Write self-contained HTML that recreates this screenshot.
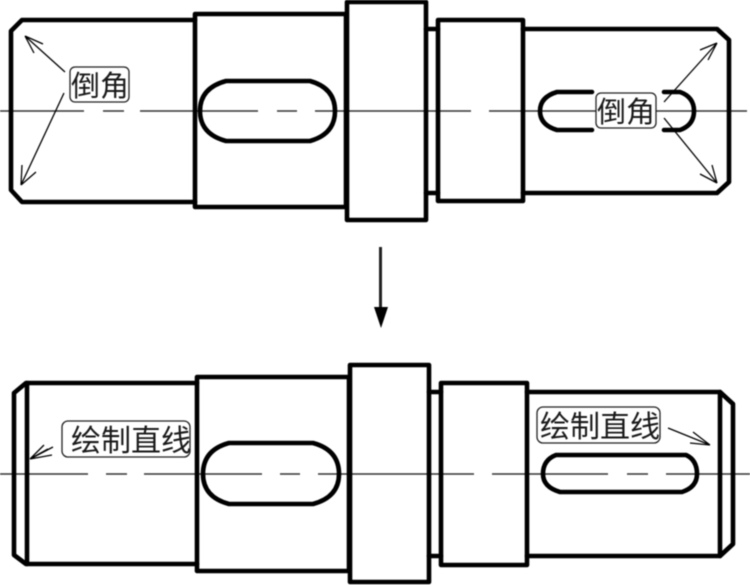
<!DOCTYPE html>
<html>
<head>
<meta charset="utf-8">
<style>
html,body{margin:0;padding:0;background:#fff;}
body{width:750px;height:585px;overflow:hidden;}
svg{display:block;filter:blur(0.4px);}
text{font-family:"Liberation Sans","Noto Sans CJK SC","WenQuanYi Zen Hei",sans-serif;fill:#1a1a1a;}
.l{font-size:29px;}
.m{font-size:30px;}
.o{fill:none;stroke:#000;stroke-width:4.6;stroke-linejoin:round;stroke-linecap:round;}
.c{fill:none;stroke:#333;stroke-width:1.5;}
.t{fill:none;stroke:#000;stroke-width:1.3;}
.b{fill:#fff;stroke:#222;stroke-width:1.3;}
</style>
</head>
<body>
<svg width="750" height="585" viewBox="0 0 750 585" xmlns="http://www.w3.org/2000/svg">
<rect width="750" height="585" fill="#fff"/>

<!-- TOP SHAFT -->
<path class="c" d="M0 111H84M103 111H124M140 111H258M277 111H297M315 111H471M489 111H610M627 111H747"/>
<path class="o" d="M195 20H22L11 31V190L22 202H195"/>
<rect class="o" x="195" y="14" width="151" height="193"/>
<rect class="o" x="347" y="2" width="79" height="218"/>
<path class="o" d="M426 29H438M426 193H438"/>
<rect class="o" x="438" y="20" width="85" height="181"/>
<path class="o" d="M523 29H717L729 40V182L717 193H523"/>
<path class="o" d="M226 81H310Q335 88 335 111Q335 134 310 141H226Q200 134 200 111Q200 88 226 81Z"/>
<path class="o" d="M592 92H557Q540 97 540 111Q540 125 557 130H592"/>
<path class="o" d="M664 92H680Q694 97 694 111Q694 125 680 130H664"/>

<!-- top arrows -->
<path class="t" d="M65 72L25 36M25 36L43 44M25 36L34 53"/>
<path class="t" d="M64 93L21 185M21 185L22 165M21 185L36 172"/>
<path class="t" d="M664 102L717 43M717 43L700 50M717 43L708 60"/>
<path class="t" d="M664 118L717 183M717 183L700 174M717 183L712 165"/>

<rect class="b" x="70" y="67" width="59" height="35" rx="5"/>
<text class="l" x="71" y="96">倒角</text>
<rect class="b" x="596" y="93" width="60" height="35" rx="5"/>
<text class="l" x="597" y="122">倒角</text>

<!-- MIDDLE ARROW -->
<path d="M380.5 247V310" stroke="#222" stroke-width="3" fill="none"/>
<path d="M374 307H388L381 328Z" fill="#000"/>

<!-- BOTTOM SHAFT -->
<path class="c" d="M0 474H88M106 474H127M144 474H262M280 474H300M318 474H474M492 474H608M627 474H648M666 474H750"/>
<path class="o" d="M197 383H26L14 393V555L26 564H197"/>
<path class="o" d="M27 383V564"/>
<rect class="o" x="197" y="377" width="152" height="194"/>
<rect class="o" x="350" y="365" width="79" height="217"/>
<path class="o" d="M429 392H441M429 556H441"/>
<rect class="o" x="441" y="383" width="86" height="182"/>
<path class="o" d="M527 392H720L733 404V544L720 556H527"/>
<path class="o" d="M720 392V556"/>
<path class="o" d="M229 443H313Q339 450 339 474Q339 497 313 504H229Q203 497 203 474Q203 450 229 443Z"/>
<path class="o" d="M556 455H686Q697 460 697 474Q697 487 682 492H560Q543 487 543 474Q543 460 556 455Z"/>

<!-- bottom arrows -->
<path class="t" d="M53 447L30 459M30 459L44 445M30 459L52 455M30 459L48 449"/>
<path class="t" d="M668 428L710 445M710 445L693 432M710 445L690 443"/>

<rect class="b" x="62" y="421" width="128" height="36" rx="6"/>
<text class="m" x="71" y="451">绘制直线</text>
<rect class="b" x="537" y="407" width="123" height="36" rx="6"/>
<text class="m" x="540" y="437">绘制直线</text>
</svg>
</body>
</html>
